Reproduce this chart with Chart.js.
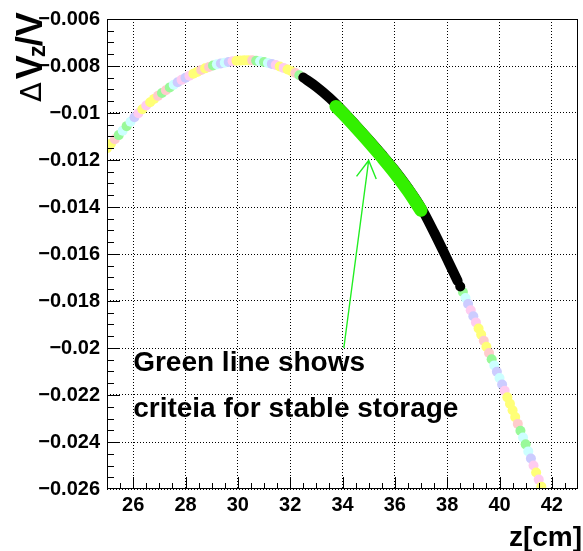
<!DOCTYPE html>
<html>
<head>
<meta charset="utf-8">
<script src="https://cdn.jsdelivr.net/npm/chart.js@4.4.1/dist/chart.umd.min.js"></script>
<style>
  html, body { margin: 0; padding: 0; background: #fff; }
  canvas { display: block; }
</style>
</head>
<body>
<canvas id="chartVz" width="583" height="551"></canvas>
<script>
// pastel points, left arm (z in cm, dV/V)
const zLeft = [25.00, 25.15, 25.30, 25.45, 25.60, 25.75, 25.90, 26.05, 26.20, 26.35,
  26.50, 26.65, 26.80, 26.95, 27.10, 27.25, 27.40, 27.55, 27.70, 27.85,
  28.00, 28.15, 28.30, 28.45, 28.60, 28.75, 28.90, 29.05, 29.20, 29.35,
  29.50, 29.65, 29.80, 29.95, 30.10, 30.25, 30.40, 30.55, 30.70, 30.85,
  31.00, 31.15, 31.30, 31.45, 31.60, 31.75, 31.90, 32.05, 32.20, 32.35, 32.50];
const dvLeft = [-0.01150, -0.01131, -0.01112, -0.01094, -0.01075, -0.01056, -0.01037, -0.01018, -0.01001, -0.00984,
  -0.00968, -0.00954, -0.00940, -0.00927, -0.00915, -0.00903, -0.00891, -0.00880, -0.00869, -0.00859,
  -0.00850, -0.00841, -0.00833, -0.00825, -0.00817, -0.00810, -0.00804, -0.00798, -0.00793, -0.00789,
  -0.00786, -0.00783, -0.00780, -0.00778, -0.00777, -0.00776, -0.00776, -0.00776, -0.00778, -0.00780,
  -0.00783, -0.00787, -0.00791, -0.00796, -0.00802, -0.00808, -0.00815, -0.00822, -0.00830, -0.00839, -0.00849];

// pastel points, right arm
const zRight = [38.60, 38.70, 38.80, 38.90, 39.00, 39.10, 39.20, 39.30, 39.40, 39.50,
  39.60, 39.70, 39.80, 39.90, 40.00, 40.10, 40.20, 40.30, 40.40, 40.50,
  40.60, 40.70, 40.80, 40.90, 41.00, 41.10, 41.20, 41.30, 41.40, 41.50, 41.60];
const dvRight = [-0.01762, -0.01787, -0.01813, -0.01839, -0.01865, -0.01891, -0.01917, -0.01943, -0.01969, -0.01995,
  -0.02021, -0.02048, -0.02074, -0.02101, -0.02128, -0.02155, -0.02182, -0.02210, -0.02237, -0.02265,
  -0.02294, -0.02323, -0.02352, -0.02381, -0.02410, -0.02440, -0.02470, -0.02500, -0.02530, -0.02560, -0.02590];

// black band
const zBlack = [32.5, 33.0, 33.5, 34.0, 34.5, 35.0, 35.5, 36.0, 36.5, 37.0, 37.5, 38.0, 38.4];
const dvBlack = [-0.00849, -0.00888, -0.00935, -0.00990, -0.01050, -0.01112, -0.01176, -0.01243, -0.01318, -0.01402, -0.01508, -0.01622, -0.01715];
const zBlackEnd = [38.5];
const dvBlackEnd = [-0.01738];

// green band (stable storage)
const zGreen = [33.75, 34.0, 34.5, 35.0, 35.5, 36.0, 36.5, 37.0];
const dvGreen = [-0.00972, -0.01000, -0.01060, -0.01122, -0.01187, -0.01255, -0.01330, -0.01414];

const xTickVals = [26, 28, 30, 32, 34, 36, 38, 40, 42];
const yTickVals = [-0.026, -0.024, -0.022, -0.02, -0.018, -0.016, -0.014, -0.012, -0.01, -0.008, -0.006];

const noteLines = ['Green line shows', 'criteia for stable storage'];
const noteZ = 26.0;
const noteDv = [-0.02097, -0.02292];
const arrowFrom = { x: 34.05, y: -0.02000 };
const arrowTo = { x: 35.00, y: -0.01202 };

const pastel = ['#ffff77', '#ccccff', '#99f999', '#ffff77', '#ffccf0', '#ccffff', '#ffcccc'];
const boldFont = '"Liberation Sans", Arial, Helvetica, sans-serif';

function zip(xs, ys) {
  return xs.map((v, i) => ({ x: v, y: ys[i] }));
}
function pastelColor(ctx) {
  const i = ctx.dataIndex || 0;
  return pastel[(i * 3 + Math.floor(i / 5)) % pastel.length];
}

// ROOT-like frame, ticks, titles and note
const rootLook = {
  id: 'rootLook',
  afterDatasetsDraw(chart) {
    const { ctx, chartArea: a, scales: { x, y } } = chart;
    ctx.save();
    ctx.strokeStyle = '#000';
    ctx.lineWidth = 1;
    ctx.beginPath();
    for (let k = 1; k < 36; k++) {
      const v = 25 + k * 0.5;
      const px = Math.round(x.getPixelForValue(v)) + 0.5;
      const len = (v % 2 === 0) ? 12 : 6;
      ctx.moveTo(px, a.bottom);
      ctx.lineTo(px, a.bottom - len);
    }
    for (let k = 1; k < 40; k++) {
      const v = -0.026 + k * 0.0005;
      const py = Math.round(y.getPixelForValue(v)) + 0.5;
      const len = (k % 4 === 0) ? 13 : 7;
      ctx.moveTo(a.left, py);
      ctx.lineTo(a.left + len, py);
    }
    ctx.stroke();
    ctx.strokeRect(a.left + 0.5, a.top + 0.5, a.right - a.left - 1, a.bottom - a.top - 1);

    // arrow
    const x0 = x.getPixelForValue(arrowFrom.x), y0 = y.getPixelForValue(arrowFrom.y);
    const x1 = x.getPixelForValue(arrowTo.x), y1 = y.getPixelForValue(arrowTo.y);
    const ang = Math.atan2(y0 - y1, x0 - x1);
    ctx.strokeStyle = '#22ee22';
    ctx.lineWidth = 1.4;
    ctx.beginPath();
    ctx.moveTo(x0, y0);
    ctx.lineTo(x1, y1);
    ctx.moveTo(x1 + 20 * Math.cos(ang + 0.52), y1 + 20 * Math.sin(ang + 0.52));
    ctx.lineTo(x1, y1);
    ctx.lineTo(x1 + 20 * Math.cos(ang - 0.52), y1 + 20 * Math.sin(ang - 0.52));
    ctx.stroke();

    // note text
    ctx.fillStyle = '#000';
    ctx.font = 'bold 28px ' + boldFont;
    ctx.textAlign = 'left';
    ctx.textBaseline = 'alphabetic';
    noteLines.forEach((t, i) => {
      ctx.fillText(t, x.getPixelForValue(noteZ), y.getPixelForValue(noteDv[i]));
    });

    // x title
    ctx.textAlign = 'right';
    ctx.fillText('z[cm]', 582, 546);

    // y title, rotated
    ctx.translate(42, 102);
    ctx.rotate(-Math.PI / 2);
    ctx.textAlign = 'left';
    let cx = 0;
    ctx.font = '29px "DejaVu Sans", sans-serif';
    ctx.fillText('\u0394', cx, -1);
    cx += ctx.measureText('\u0394').width + 3;
    ctx.font = 'bold 36px ' + boldFont;
    ctx.fillText('V', cx, 0);
    cx += ctx.measureText('V').width - 2;
    ctx.font = 'bold 24px ' + boldFont;
    ctx.fillText('z', cx, 3);
    cx += ctx.measureText('z').width - 1;
    ctx.font = 'bold 36px ' + boldFont;
    ctx.fillText('/V', cx, 0);
    ctx.restore();
  }
};

const tickFont = { family: boldFont, weight: 'bold', size: 20 };

new Chart(document.getElementById('chartVz').getContext('2d'), {
  type: 'scatter',
  data: {
    datasets: [
      {
        data: zip(zGreen, dvGreen),
        showLine: true,
        borderColor: '#33f000',
        borderWidth: 13,
        borderCapStyle: 'round',
        borderJoinStyle: 'round',
        cubicInterpolationMode: 'monotone',
        pointRadius: 0,
        order: 0
      },
      {
        data: zip(zBlack, dvBlack),
        showLine: true,
        borderColor: '#000',
        borderWidth: 10,
        borderCapStyle: 'round',
        borderJoinStyle: 'round',
        cubicInterpolationMode: 'monotone',
        pointRadius: 0,
        order: 1
      },
      {
        data: zip(zBlackEnd, dvBlackEnd),
        backgroundColor: '#000',
        pointRadius: 5,
        pointBorderWidth: 0,
        order: 1
      },
      {
        data: zip(zLeft, dvLeft).concat(zip(zRight, dvRight)),
        backgroundColor: pastelColor,
        pointRadius: 5,
        pointBorderWidth: 0,
        order: 2
      }
    ]
  },
  options: {
    responsive: false,
    animation: false,
    layout: { padding: { top: 17, right: 1, left: 0, bottom: 0 } },
    plugins: { legend: { display: false }, tooltip: { enabled: false } },
    scales: {
      x: {
        type: 'linear',
        min: 25,
        max: 43,
        afterBuildTicks: s => { s.ticks = xTickVals.map(v => ({ value: v })); },
        afterFit: s => { s.height = 62; },
        grid: { color: '#000', lineWidth: 1, drawTicks: false },
        border: { display: false, dash: [1, 2] },
        ticks: {
          font: tickFont, color: '#000', padding: 4, maxRotation: 0, autoSkip: false,
          callback: v => String(v)
        }
      },
      y: {
        type: 'linear',
        min: -0.026,
        max: -0.006,
        afterBuildTicks: s => { s.ticks = yTickVals.map(v => ({ value: v })); },
        afterFit: s => { s.width = 107; },
        grid: { color: '#000', lineWidth: 1, drawTicks: false },
        border: { display: false, dash: [1, 2] },
        ticks: {
          font: tickFont, color: '#000', padding: 7, autoSkip: false,
          callback: v => '\u2212' + String(Math.abs(v))
        }
      }
    }
  },
  plugins: [rootLook]
});
</script>
</body>
</html>
